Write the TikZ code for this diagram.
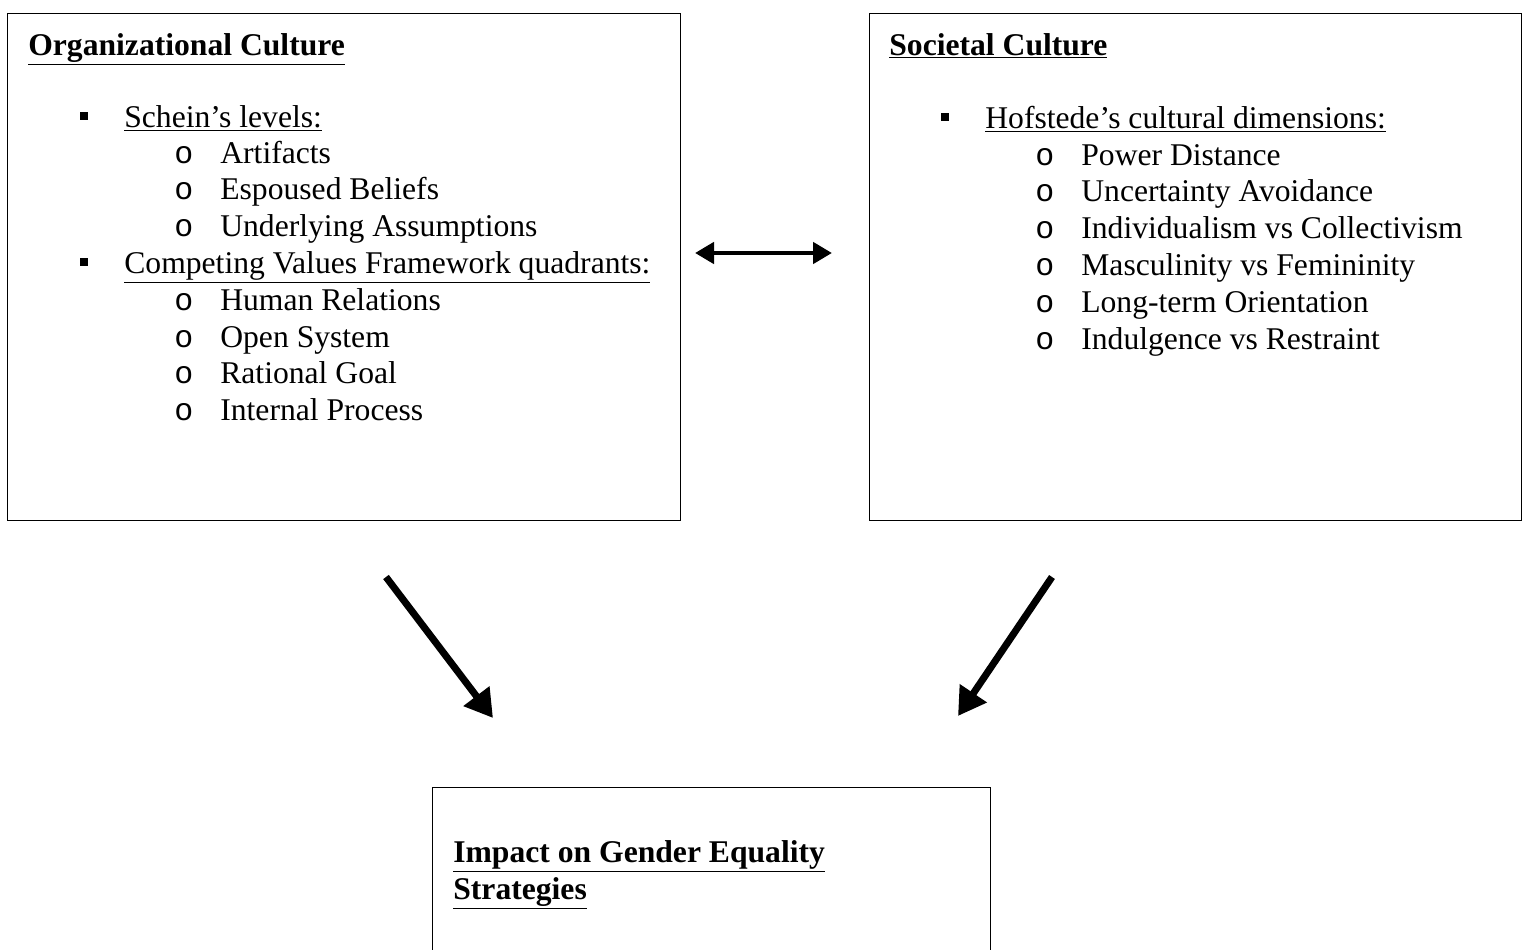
\documentclass[tikz,border=0pt]{standalone}
\usepackage{fontspec}
\setmainfont{Liberation Serif}
\newfontfamily\bulletfont{Liberation Mono}
\usetikzlibrary{arrows.meta}

\begin{document}
\begin{tikzpicture}[x=0.02cm,y=-0.02cm,
  box/.style={draw,black,line width=0.7pt,rectangle,anchor=north west,inner sep=0pt},
  txt/.style={anchor=base west,inner sep=0pt,font=\fontsize{18}{22}\selectfont},
  head/.style={anchor=base west,inner sep=0pt,font=\fontsize{18}{22}\selectfont\bfseries},
  sq/.style={fill=black,inner sep=0pt,minimum size=4pt},
  ring/.style={anchor=base west,inner sep=0pt,font=\fontsize{18}{22}\bulletfont}]
\def\l{0.55cm}
\def\w{0.62cm}

\useasboundingbox (0,0) rectangle (1526,950);

% the three boxes
\node [box, minimum width=13.46cm, minimum height=10.14cm, name=org]      at (7,13) {};
\node [box, minimum width=13.04cm, minimum height=10.14cm, name=soc]      at (869,13) {};
\node [box, minimum width=11.16cm, minimum height=3.3cm, name=imp]       at (432,787) {};

% organizational culture
\node [head, name=orgt]      at (28,55) {\underline{Organizational Culture}};
\node [sq, name=os1]      at (84,116) {};
\node [txt, name=orgs1]      at (124,127) {\underline{Schein’s levels:}};
\node [ring, name=oa1]      at (174,163) {o};
\node [txt, name=orga1]      at (220,163) {Artifacts};
\node [ring, name=oa2]      at (174,199) {o};
\node [txt, name=orga2]      at (220,199) {Espoused Beliefs};
\node [ring, name=oa3]      at (174,236) {o};
\node [txt, name=orga3]      at (220,236) {Underlying Assumptions};
\node [sq, name=os2]      at (84,262) {};
\node [txt, name=orgs2]      at (124,273) {\underline{Competing Values Framework quadrants:}};
\node [ring, name=ob1]      at (174,310) {o};
\node [txt, name=orgb1]      at (220,310) {Human Relations};
\node [ring, name=ob2]      at (174,347) {o};
\node [txt, name=orgb2]      at (220,347) {Open System};
\node [ring, name=ob3]      at (174,383) {o};
\node [txt, name=orgb3]      at (220,383) {Rational Goal};
\node [ring, name=ob4]      at (174,420) {o};
\node [txt, name=orgb4]      at (220,420) {Internal Process};

% societal culture
\node [head, name=soct]      at (889,55) {\underline{Societal Culture}};
\node [sq, name=ss1]      at (945,117) {};
\node [txt, name=socs1]      at (985,128) {\underline{Hofstede’s cultural dimensions:}};
\node [ring, name=sa1]      at (1035,165) {o};
\node [txt, name=soca1]      at (1081,165) {Power Distance};
\node [ring, name=sa2]      at (1035,201) {o};
\node [txt, name=soca2]      at (1081,201) {Uncertainty Avoidance};
\node [ring, name=sa3]      at (1035,238) {o};
\node [txt, name=soca3]      at (1081,238) {Individualism vs Collectivism};
\node [ring, name=sa4]      at (1035,275) {o};
\node [txt, name=soca4]      at (1081,275) {Masculinity vs Femininity};
\node [ring, name=sa5]      at (1035,312) {o};
\node [txt, name=soca5]      at (1081,312) {Long-term Orientation};
\node [ring, name=sa6]      at (1035,349) {o};
\node [txt, name=soca6]      at (1081,349) {Indulgence vs Restraint};

% impact
\node [head, name=impt1]      at (453,862) {\underline{Impact on Gender Equality}};
\node [head, name=impt2]      at (453,899) {\underline{Strategies}};

% arrow ends
\coordinate (m1) at (695,253);
\coordinate (m2) at (832,253);
\coordinate (p1) at (386,577);
\coordinate (p2) at (493,718);
\coordinate (q1) at (1052,577);
\coordinate (q2) at (958,716);

\draw [{Triangle[length=0.38cm, width=0.42cm]}-{Triangle[length=0.38cm, width=0.42cm]}, line width=2.6pt](m1) to (m2);
\draw [-{Triangle[length=\l, width=\w]}, line width=4pt](p1) to (p2);
\draw [-{Triangle[length=\l, width=\w]}, line width=4pt](q1) to (q2);
\end{tikzpicture}
\end{document}
